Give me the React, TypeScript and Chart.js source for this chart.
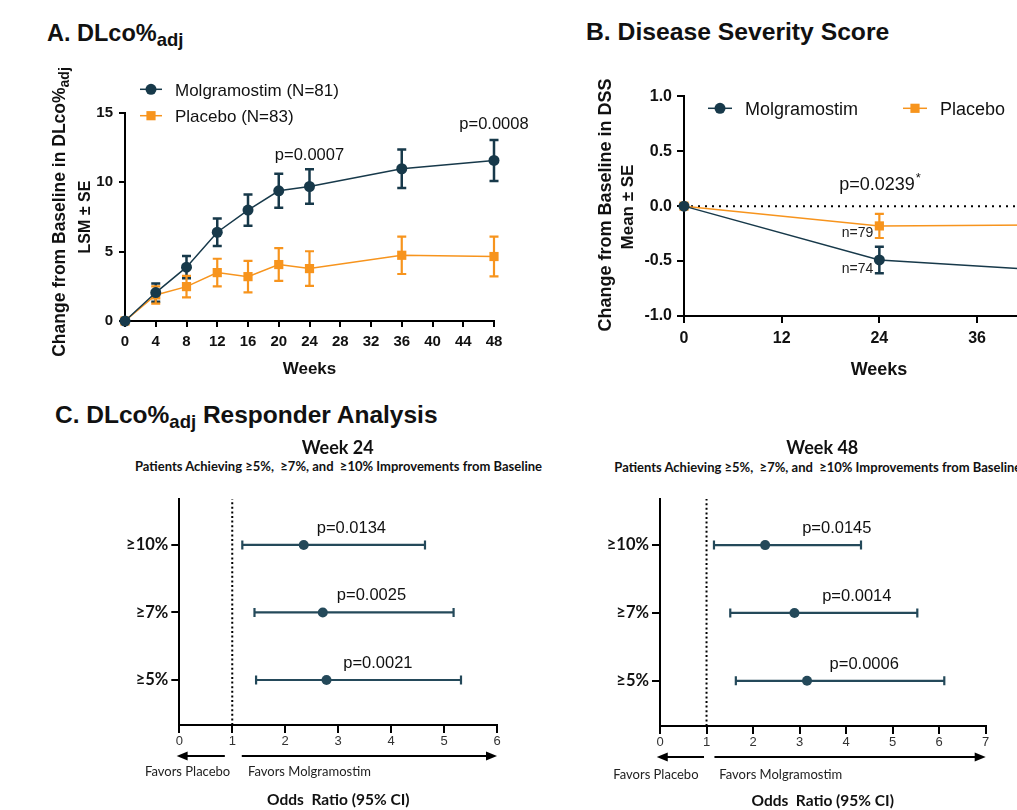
import React, { useEffect, useRef } from 'react';
import { Chart, registerables } from 'chart.js';
Chart.register(...registerables);

const ARIAL = "'Liberation Sans', Arial, Helvetica, sans-serif";
const CAL = "Lato, 'Open Sans', sans-serif";
const TEAL = '#17394a';
const ORANGE = '#f7941d';
const TEAL_C = '#24495a';
const INK = '#111111';

// ---------- Panel A: DLco%adj change from baseline ----------
const weeksA = [0, 4, 8, 12, 16, 20, 24, 36, 48];
const weekTicksA = [0, 4, 8, 12, 16, 20, 24, 28, 32, 36, 40, 44, 48];
const molgA = [0, 2.05, 3.88, 6.4, 8.0, 9.39, 9.7, 10.98, 11.58];
const molgSeA = [null, 0.66, 0.8, 1.0, 1.13, 1.22, 1.25, 1.38, 1.48];
const placA = [0, 1.88, 2.48, 3.49, 3.2, 4.07, 3.78, 4.74, 4.65];
const placSeA = [null, 0.62, 0.78, 1.0, 1.13, 1.18, 1.25, 1.35, 1.43];
const pTextA = ['p=0.0007', 'p=0.0008'];
const pWeekA = [24, 48];
const pYA = [11.61, 13.82];

// ---------- Panel B: Disease Severity Score ----------
const weeksB = [0, 24, 48];
const weekTicksB = [0, 12, 24, 36, 48];
const molgB = [0, -0.49, -0.6];
const molgSeB = [null, 0.12, null];
const placB = [0, -0.18, -0.17];
const placSeB = [null, 0.11, null];
const nLabelsB = ['n=74', 'n=79'];
const pTextB = 'p=0.0239';

// ---------- Panel C: responder analysis ----------
const rowsC = ['≥10%', '≥7%', '≥5%'];
const rowPos = [3, 2, 1];
const or24 = [2.35, 2.71, 2.78];
const lo24 = [1.19, 1.42, 1.45];
const hi24 = [4.64, 5.18, 5.32];
const p24 = ['p=0.0134', 'p=0.0025', 'p=0.0021'];
const pX24 = [3.25, 3.63, 3.75];
const or48 = [2.26, 2.89, 3.16];
const lo48 = [1.16, 1.51, 1.63];
const hi48 = [4.32, 5.53, 6.11];
const p48 = ['p=0.0145', 'p=0.0014', 'p=0.0006'];
const pX48 = [3.8, 4.23, 4.39];

type Box = { l: number; t: number; w: number; h: number };
type Area = { l: number; r: number; t: number; b: number };

function frame(c: Box, a: Area) {
  return {
    padding: { left: 0, top: a.t - c.t, right: c.l + c.w - a.r, bottom: 0 },
    yW: a.l - c.l,
    xH: c.t + c.h - a.b,
  };
}

function errorBarPlugin() {
  return {
    id: 'errBars',
    beforeDatasetsDraw(chart: any) {
      const ctx = chart.ctx;
      const xs = chart.scales.x, ys = chart.scales.y;
      chart.data.datasets.forEach((ds: any) => {
        const e = ds.errBars;
        if (!e) return;
        ctx.save();
        ctx.strokeStyle = e.color;
        ctx.lineWidth = e.width;
        ds.data.forEach((p: any, j: number) => {
          const lo = e.lo[j], hi = e.hi[j];
          if (lo == null || hi == null) return;
          ctx.beginPath();
          if (e.dir === 'y') {
            const x = xs.getPixelForValue(p.x);
            const y1 = ys.getPixelForValue(lo), y2 = ys.getPixelForValue(hi);
            ctx.moveTo(x, y1); ctx.lineTo(x, y2);
            ctx.moveTo(x - e.cap, y1); ctx.lineTo(x + e.cap, y1);
            ctx.moveTo(x - e.cap, y2); ctx.lineTo(x + e.cap, y2);
          } else {
            const y = ys.getPixelForValue(p.y);
            const x1 = xs.getPixelForValue(lo), x2 = xs.getPixelForValue(hi);
            ctx.moveTo(x1, y); ctx.lineTo(x2, y);
            ctx.moveTo(x1, y - e.cap); ctx.lineTo(x1, y + e.cap);
            ctx.moveTo(x2, y - e.cap); ctx.lineTo(x2, y + e.cap);
          }
          ctx.stroke();
        });
        ctx.restore();
      });
    },
  };
}

function textPlugin(items: any[]) {
  return {
    id: 'texts',
    afterDatasetsDraw(chart: any) {
      const ctx = chart.ctx;
      items.forEach((it) => {
        ctx.save();
        ctx.font = it.font;
        ctx.fillStyle = it.color || INK;
        ctx.textAlign = it.align || 'center';
        ctx.textBaseline = 'alphabetic';
        const x = chart.scales.x.getPixelForValue(it.x) + (it.dx || 0);
        const y = chart.scales.y.getPixelForValue(it.y) + (it.dy || 0);
        ctx.fillText(it.text, x, y);
        if (it.sup) {
          const w = ctx.measureText(it.text).width;
          const left = it.align === 'right' ? x : it.align === 'left' ? x + w : x + w / 2;
          ctx.font = it.supFont;
          ctx.textAlign = 'left';
          ctx.fillText(it.sup, left + 1, y - (it.supDy || 7));
        }
        ctx.restore();
      });
    },
  };
}

function drawMarker(ctx: any, style: string, x: number, y: number, r: number, color: string) {
  ctx.fillStyle = color;
  ctx.beginPath();
  if (style === 'rect') {
    const s = r * Math.SQRT1_2;
    ctx.rect(x - s, y - s, 2 * s, 2 * s);
  } else {
    ctx.arc(x, y, r, 0, Math.PI * 2);
  }
  ctx.fill();
}

// legend entries: line + marker + label, positions in page coords converted by canvas origin
function lineLegendPlugin(origin: Box, items: any[]) {
  return {
    id: 'lineLegend',
    afterDraw(chart: any) {
      const ctx = chart.ctx;
      items.forEach((it) => {
        ctx.save();
        const y = it.y - origin.t;
        ctx.strokeStyle = it.color;
        ctx.lineWidth = 1.5;
        ctx.beginPath();
        ctx.moveTo(it.x1 - origin.l, y);
        ctx.lineTo(it.x2 - origin.l, y);
        ctx.stroke();
        drawMarker(ctx, it.style, (it.x1 + it.x2) / 2 - origin.l, y, it.r, it.color);
        ctx.font = it.font;
        ctx.fillStyle = INK;
        ctx.textAlign = 'left';
        ctx.textBaseline = 'alphabetic';
        ctx.fillText(it.text, it.tx - origin.l, it.ty - origin.t);
        ctx.restore();
      });
    },
  };
}

function arrowPlugin(dy: number, segs: { from: number; to: number }[]) {
  return {
    id: 'arrows',
    afterDraw(chart: any) {
      const ctx = chart.ctx;
      const xs = chart.scales.x;
      const y = chart.chartArea.bottom + dy;
      ctx.save();
      ctx.strokeStyle = '#000';
      ctx.fillStyle = '#000';
      ctx.lineWidth = 2;
      segs.forEach((s) => {
        const x1 = xs.getPixelForValue(s.from), x2 = xs.getPixelForValue(s.to);
        const dir = Math.sign(x2 - x1);
        const head = 11;
        ctx.beginPath();
        ctx.moveTo(x1, y);
        ctx.lineTo(x2 - dir * head * 0.8, y);
        ctx.stroke();
        ctx.beginPath();
        ctx.moveTo(x2, y);
        ctx.lineTo(x2 - dir * head, y - 4.5);
        ctx.lineTo(x2 - dir * head, y + 4.5);
        ctx.closePath();
        ctx.fill();
      });
      ctx.restore();
    },
  };
}

function axisBase(tickLen: number) {
  return {
    grid: { display: true, drawOnChartArea: false, drawTicks: true, tickLength: tickLen, color: '#000', lineWidth: 2 },
    border: { display: true, color: '#000', width: 2 },
  };
}

// ---------- chart A ----------
const boxA: Box = { l: 40, t: 60, w: 520, h: 330 };
const areaA: Area = { l: 125, r: 494, t: 113, b: 321 };

function makeA() {
  const f = frame(boxA, areaA);
  const withSe = (v: number[], se: (number | null)[], sign: number) =>
    v.map((y, i) => (se[i] == null ? null : y + sign * (se[i] as number)));
  return {
    type: 'line',
    data: {
      datasets: [
        {
          label: 'Molgramostim (N=81)',
          data: weeksA.map((w, i) => ({ x: w, y: molgA[i] })),
          borderColor: TEAL, backgroundColor: TEAL, pointBackgroundColor: TEAL, pointBorderColor: TEAL,
          borderWidth: 1.5, pointStyle: 'circle', pointRadius: 5.5, pointBorderWidth: 0, clip: false,
          errBars: { lo: withSe(molgA, molgSeA, -1), hi: withSe(molgA, molgSeA, 1), dir: 'y', color: TEAL, width: 2.5, cap: 4.5 },
        },
        {
          label: 'Placebo (N=83)',
          data: weeksA.map((w, i) => ({ x: w, y: placA[i] })),
          borderColor: ORANGE, backgroundColor: ORANGE, pointBackgroundColor: ORANGE, pointBorderColor: ORANGE,
          borderWidth: 1.5, pointStyle: 'rect', pointRadius: 6.5, pointBorderWidth: 0, clip: false,
          errBars: { lo: withSe(placA, placSeA, -1), hi: withSe(placA, placSeA, 1), dir: 'y', color: ORANGE, width: 2.2, cap: 4.5 },
        },
      ],
    },
    options: {
      animation: false, responsive: false, events: [],
      layout: { padding: f.padding },
      plugins: { legend: { display: false }, tooltip: { enabled: false } },
      scales: {
        x: {
          type: 'linear', min: 0, max: 48, ...axisBase(6),
          afterFit: (s: any) => { s.height = f.xH; s.paddingLeft = 0; s.paddingRight = 0; },
          afterBuildTicks: (s: any) => { s.ticks = weekTicksA.map((v) => ({ value: v })); },
          ticks: { font: { family: ARIAL, size: 15, weight: 'bold' }, color: INK, padding: 6, maxRotation: 0, autoSkip: false },
        },
        y: {
          type: 'linear', min: 0, max: 15, ...axisBase(6),
          afterFit: (s: any) => { s.width = f.yW; s.paddingTop = 0; s.paddingBottom = 0; },
          ticks: { stepSize: 5, font: { family: ARIAL, size: 15, weight: 'bold' }, color: INK, padding: 6 },
        },
      },
    },
    plugins: [
      errorBarPlugin(),
      textPlugin(pTextA.map((t, i) => ({ text: t, x: pWeekA[i], y: pYA[i], font: `16.5px ${ARIAL}` }))),
      lineLegendPlugin(boxA, [
        { x1: 140, x2: 162, y: 89.3, style: 'circle', r: 5.5, color: TEAL, text: 'Molgramostim (N=81)', tx: 175, ty: 95.5, font: `17px ${ARIAL}` },
        { x1: 140, x2: 162, y: 115.7, style: 'rect', r: 6.5, color: ORANGE, text: 'Placebo (N=83)', tx: 175, ty: 121.5, font: `17px ${ARIAL}` },
      ]),
    ],
  };
}

// ---------- chart B ----------
const boxB: Box = { l: 585, t: 60, w: 520, h: 330 };
const areaB: Area = { l: 684, r: 1074.7, t: 96.3, b: 316 };

function makeB() {
  const f = frame(boxB, areaB);
  const withSe = (v: number[], se: (number | null)[], sign: number) =>
    v.map((y, i) => (se[i] == null ? null : y + sign * (se[i] as number)));
  return {
    type: 'line',
    data: {
      datasets: [
        {
          label: 'Molgramostim',
          data: weeksB.map((w, i) => ({ x: w, y: molgB[i] })),
          borderColor: TEAL, backgroundColor: TEAL, pointBackgroundColor: TEAL, pointBorderColor: TEAL,
          borderWidth: 1.5, pointStyle: 'circle', pointRadius: 5.5, pointBorderWidth: 0, clip: false,
          errBars: { lo: withSe(molgB, molgSeB, -1), hi: withSe(molgB, molgSeB, 1), dir: 'y', color: TEAL, width: 2.5, cap: 4.5 },
        },
        {
          label: 'Placebo',
          data: weeksB.map((w, i) => ({ x: w, y: placB[i] })),
          borderColor: ORANGE, backgroundColor: ORANGE, pointBackgroundColor: ORANGE, pointBorderColor: ORANGE,
          borderWidth: 1.5, pointStyle: 'rect', pointRadius: 6.5, pointBorderWidth: 0, clip: false,
          errBars: { lo: withSe(placB, placSeB, -1), hi: withSe(placB, placSeB, 1), dir: 'y', color: ORANGE, width: 2.2, cap: 4.5 },
        },
        {
          label: 'baseline',
          data: [{ x: 0, y: 0 }, { x: 48, y: 0 }],
          borderColor: '#000', borderWidth: 2, borderDash: [2, 5], pointRadius: 0, clip: false,
        },
      ],
    },
    options: {
      animation: false, responsive: false, events: [],
      layout: { padding: f.padding },
      plugins: { legend: { display: false }, tooltip: { enabled: false } },
      scales: {
        x: {
          type: 'linear', min: 0, max: 48, ...axisBase(7),
          afterFit: (s: any) => { s.height = f.xH; s.paddingLeft = 0; s.paddingRight = 0; },
          afterBuildTicks: (s: any) => { s.ticks = weekTicksB.map((v) => ({ value: v })); },
          ticks: { font: { family: ARIAL, size: 16, weight: 'bold' }, color: INK, padding: 6, maxRotation: 0, autoSkip: false },
        },
        y: {
          type: 'linear', min: -1, max: 1, ...axisBase(7),
          afterFit: (s: any) => { s.width = f.yW; s.paddingTop = 0; s.paddingBottom = 0; },
          ticks: { stepSize: 0.5, font: { family: ARIAL, size: 16, weight: 'bold' }, color: INK, padding: 5, callback: (v: any) => Number(v).toFixed(1) },
        },
      },
    },
    plugins: [
      errorBarPlugin(),
      textPlugin([
        { text: pTextB, x: 23.71, y: 0.148, font: `18px ${ARIAL}`, sup: '*', supFont: `13px ${ARIAL}`, supDy: 8 },
        { text: nLabelsB[1], x: weeksB[1], y: placB[1], dx: -6, dy: 11, align: 'right', font: `14px ${ARIAL}`, color: '#222' },
        { text: nLabelsB[0], x: weeksB[1], y: molgB[1], dx: -6, dy: 13, align: 'right', font: `14px ${ARIAL}`, color: '#222' },
      ]),
      lineLegendPlugin(boxB, [
        { x1: 708, x2: 732, y: 108.3, style: 'circle', r: 5.5, color: TEAL, text: 'Molgramostim', tx: 745, ty: 115, font: `18px ${ARIAL}` },
        { x1: 903, x2: 927, y: 108.3, style: 'rect', r: 6.5, color: ORANGE, text: 'Placebo', tx: 940, ty: 115, font: `18px ${ARIAL}` },
      ]),
    ],
  };
}

// ---------- charts C ----------
const boxC24: Box = { l: 110, t: 490, w: 420, h: 320 };
const areaC24: Area = { l: 179.3, r: 497, t: 499, b: 725 };
const boxC48: Box = { l: 590, t: 490, w: 427, h: 320 };
const areaC48: Area = { l: 660, r: 985.7, t: 499, b: 726 };

function makeC(box: Box, area: Area, xmax: number, or: number[], lo: number[], hi: number[], pt: string[], px: number[], arrows: { from: number; to: number }[]) {
  const f = frame(box, area);
  const ymin = 1 / 3, ymax = 3.68;
  return {
    type: 'line',
    data: {
      datasets: [
        {
          label: 'Odds ratio',
          data: or.map((v, i) => ({ x: v, y: rowPos[i] })),
          showLine: false,
          borderColor: TEAL_C, backgroundColor: TEAL_C, pointBackgroundColor: TEAL_C, pointBorderColor: TEAL_C,
          pointStyle: 'circle', pointRadius: 5, pointBorderWidth: 0, clip: false,
          errBars: { lo, hi, dir: 'x', color: TEAL_C, width: 2.2, cap: 4.5 },
        },
        {
          label: 'OR = 1',
          data: [{ x: 1, y: ymin }, { x: 1, y: ymax }],
          borderColor: '#000', borderWidth: 2, borderDash: [2, 2.6], pointRadius: 0, clip: false,
        },
      ],
    },
    options: {
      animation: false, responsive: false, events: [],
      layout: { padding: f.padding },
      plugins: { legend: { display: false }, tooltip: { enabled: false } },
      scales: {
        x: {
          type: 'linear', min: 0, max: xmax, ...axisBase(8),
          afterFit: (s: any) => { s.height = f.xH; s.paddingLeft = 0; s.paddingRight = 0; },
          ticks: { stepSize: 1, font: { family: ARIAL, size: 13 }, color: '#333', padding: 1, maxRotation: 0, autoSkip: false },
        },
        y: {
          type: 'linear', min: ymin, max: ymax, ...axisBase(8),
          afterFit: (s: any) => { s.width = f.yW; s.paddingTop = 0; s.paddingBottom = 0; },
          afterBuildTicks: (s: any) => { s.ticks = rowPos.map((v) => ({ value: v })); },
          ticks: { font: { family: CAL, size: 16.5, weight: 'bold' }, color: INK, padding: 3, callback: (v: any) => rowsC[rowPos.indexOf(Number(v))] },
        },
      },
    },
    plugins: [
      errorBarPlugin(),
      textPlugin(pt.map((t, i) => ({ text: t, x: px[i], y: rowPos[i], dy: -12, font: `16.5px ${ARIAL}` }))),
      arrowPlugin(31, arrows),
    ],
  };
}

function ChartCanvas({ box, make }: { box: Box; make: () => any }) {
  const ref = useRef<HTMLCanvasElement>(null);
  useEffect(() => {
    const chart = new Chart(ref.current as HTMLCanvasElement, make());
    return () => chart.destroy();
  }, []);
  return (
    <canvas
      ref={ref}
      width={box.w}
      height={box.h}
      style={{ position: 'absolute', left: box.l, top: box.t, width: box.w, height: box.h }}
    />
  );
}

function T({ x, y, size, bold, fam = ARIAL, align = 'left', color = INK, children }: any) {
  const tx = align === 'center' ? '-50%' : align === 'right' ? '-100%' : '0';
  const base = fam === CAL ? 0.887 : 0.8465;
  return (
    <div
      style={{
        position: 'absolute', left: x, top: y - base * size, fontSize: size, lineHeight: 1,
        fontFamily: fam, fontWeight: bold ? 700 : 400, whiteSpace: 'pre', color,
        transform: `translateX(${tx})`,
      }}
    >
      {children}
    </div>
  );
}

function R({ cx, cy, size, children }: any) {
  return (
    <div
      style={{
        position: 'absolute', left: cx, top: cy, fontSize: size, lineHeight: 1, whiteSpace: 'pre',
        fontFamily: ARIAL, fontWeight: 700, color: INK,
        transform: 'translate(-50%, -50%) rotate(-90deg)',
      }}
    >
      {children}
    </div>
  );
}

const Sub = ({ size, shift, children }: any) => (
  <span style={{ fontSize: size, verticalAlign: -shift }}>{children}</span>
);

export default function App() {
  return (
    <div style={{ position: 'fixed', left: 0, top: 0, width: 1017, height: 810, overflow: 'hidden', background: '#fff' }}>
      <ChartCanvas box={boxA} make={makeA} />
      <ChartCanvas box={boxB} make={makeB} />
      <ChartCanvas
        box={boxC24}
        make={() => makeC(boxC24, areaC24, 6, or24, lo24, hi24, p24, pX24, [{ from: 0.86, to: -0.05 }, { from: 1.18, to: 6 }])}
      />
      <ChartCanvas
        box={boxC48}
        make={() => makeC(boxC48, areaC48, 7, or48, lo48, hi48, p48, pX48, [{ from: 0.946, to: -0.07 }, { from: 1.17, to: 7 }])}
      />

      {/* Panel A texts */}
      <T x={47} y={41.7} size={23.5} bold>
        A. DLco%<Sub size={18.5} shift={5}>adj</Sub>
      </T>
      <R cx={61} cy={211.5} size={17.5}>
        Change from Baseline in DLco%<Sub size={14} shift={4}>adj</Sub>
      </R>
      <R cx={85.3} cy={216.7} size={16}>LSM ± SE</R>
      <T x={309.5} y={374} size={17} bold align="center">Weeks</T>

      {/* Panel B texts */}
      <T x={586} y={40.7} size={24.7} bold>B. Disease Severity Score</T>
      <R cx={605} cy={205} size={18}>Change from Baseline in DSS</R>
      <R cx={627} cy={206.7} size={17}>Mean ± SE</R>
      <T x={879} y={375} size={18} bold align="center">Weeks</T>

      {/* Panel C texts */}
      <T x={55} y={423.3} size={24.5} bold>
        C. DLco%<Sub size={18.5} shift={5}>adj</Sub> Responder Analysis
      </T>
      <T x={337.7} y={454} size={18} bold fam={CAL} align="center">Week 24</T>
      <T x={135} y={471.7} size={13} bold fam={CAL}>Patients Achieving ≥5%,  ≥7%, and  ≥10% Improvements from Baseline</T>
      <T x={145} y={776.7} size={13} fam={CAL} color="#222">Favors Placebo</T>
      <T x={248} y={776.7} size={13} fam={CAL} color="#222">Favors Molgramostim</T>
      <T x={338.3} y={806} size={15.5} bold fam={CAL} align="center">Odds  Ratio (95% CI)</T>

      <T x={822.3} y={454} size={18} bold fam={CAL} align="center">Week 48</T>
      <T x={614.3} y={472.7} size={13} bold fam={CAL}>Patients Achieving ≥5%,  ≥7%, and  ≥10% Improvements from Baseline</T>
      <T x={613.3} y={780} size={13} fam={CAL} color="#222">Favors Placebo</T>
      <T x={719.3} y={780} size={13} fam={CAL} color="#222">Favors Molgramostim</T>
      <T x={822.7} y={807} size={15.5} bold fam={CAL} align="center">Odds  Ratio (95% CI)</T>
    </div>
  );
}
